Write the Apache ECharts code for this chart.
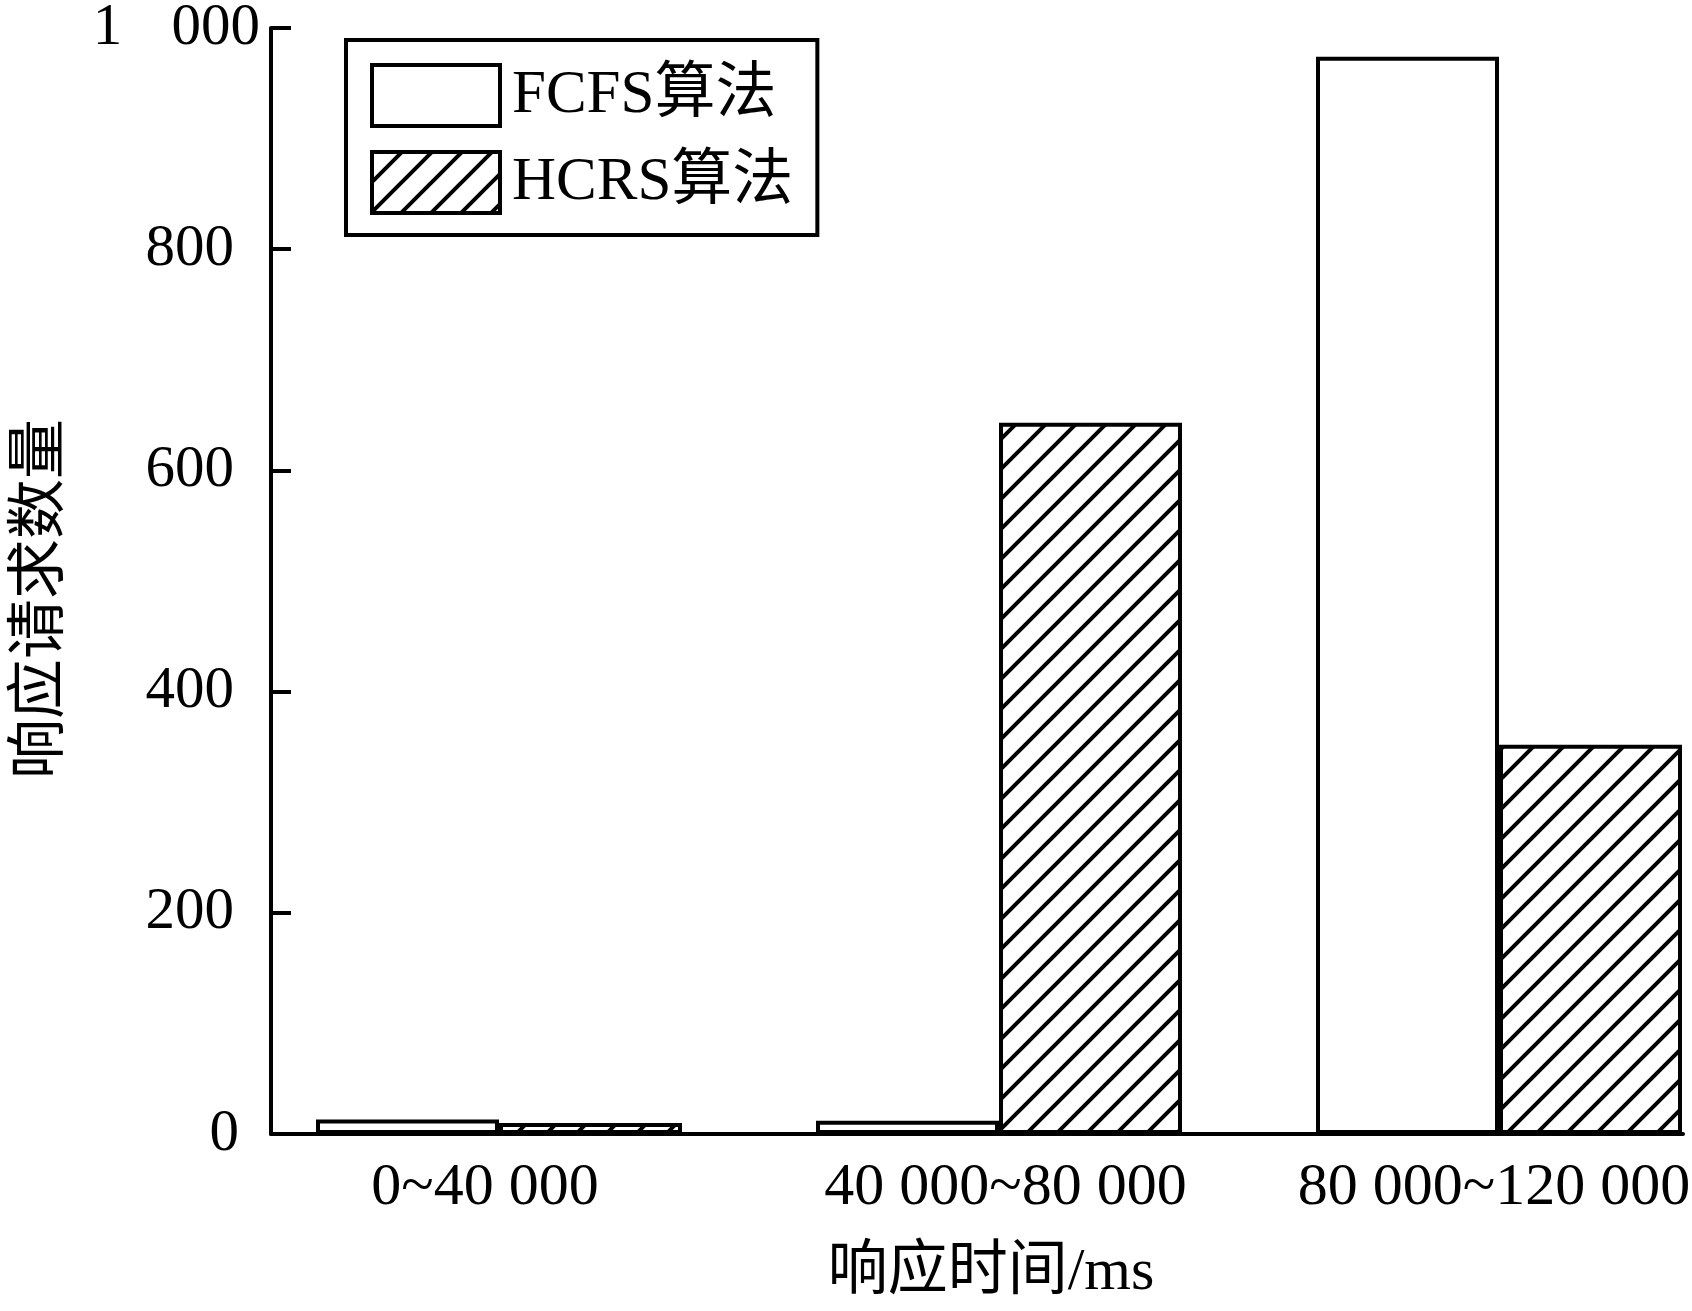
<!DOCTYPE html>
<html>
<head>
<meta charset="utf-8">
<script src="https://cdn.jsdelivr.net/npm/echarts@6/dist/echarts.min.js"></script>
<style>
html,body{margin:0;padding:0;background:#fff;}
#chart{width:1692px;height:1311px;}
</style>
</head>
<body>
<div id="chart"></div>
<script>
// ---- data ----
var categories = ['0~40 000', '40 000~80 000', '80 000~120 000'];
var categoryPos = [1, 2, 3];
var seriesNames = ['FCFS算法', 'HCRS算法'];
var fcfsValues = [13, 12, 974];
var hcrsValues = [10, 643, 352];
var yTickLabels = {0: '0', 200: '200', 400: '400', 600: '600', 800: '800', 1000: '1\u2002\u2004000'};
var xAxisTitle = '响应时间/ms';
var yAxisTitle = '响应请求数量';

var FONT = '"Liberation Serif", "Times New Roman", "Noto Sans CJK SC", serif';

// hatch pattern "/"
function makeHatch() {
  var s = 30;
  var c = document.createElement('canvas');
  c.width = s; c.height = s;
  var g = c.getContext('2d');
  g.fillStyle = '#fff';
  g.fillRect(0, 0, s, s);
  g.strokeStyle = '#000';
  g.lineWidth = 4;
  g.beginPath();
  g.moveTo(-5, s + 5); g.lineTo(s + 5, -5);
  g.moveTo(-5, 5); g.lineTo(5, -5);
  g.moveTo(s - 5, s + 5); g.lineTo(s + 5, s - 5);
  g.stroke();
  return c;
}
var hatch = makeHatch();

function pairs(vals) {
  return vals.map(function (v, i) { return [categoryPos[i], v]; });
}

var labelBase = {fontFamily: FONT, fontSize: 60, color: '#000'};
function withPad(p) { return Object.assign({padding: p}, labelBase); }
var yBase = {fontFamily: FONT, fontSize: 59, color: '#000'};
function yPad(p) { return Object.assign({padding: p}, yBase); }

var chart = echarts.init(document.getElementById('chart'), null, {renderer: 'canvas'});
chart.setOption({
  backgroundColor: '#fff',
  animation: false,
  grid: {left: 271, right: 9, top: 28, bottom: 177, containLabel: false, outerBoundsMode: 'none'},
  legend: {
    orient: 'vertical',
    left: 346,
    top: 40,
    padding: [23, 24, 20, 24],
    itemWidth: 128,
    itemHeight: 61,
    itemGap: 22,
    borderColor: '#000',
    borderWidth: 4,
    borderRadius: 0,
    backgroundColor: '#fff',
    icon: 'rect',
    itemStyle: {borderColor: '#000', borderWidth: 4},
    textStyle: {fontFamily: FONT, fontSize: 61, color: '#000', padding: [0, 0, 0, 7]},
    data: seriesNames
  },
  xAxis: {
    type: 'value',
    min: 0.544,
    max: 3.368,
    name: xAxisTitle,
    nameLocation: 'middle',
    nameGap: 109,
    nameMoveOverlap: false,
    nameTextStyle: {fontFamily: FONT, fontSize: 60, color: '#000', padding: [0, 0, 0, 28]},
    axisLine: {show: true, onZero: false, lineStyle: {color: '#000', width: 4}},
    axisTick: {show: false},
    splitLine: {show: false},
    axisLabel: {
      customValues: categoryPos,
      margin: 24,
      fontFamily: FONT,
      fontSize: 60,
      color: '#000',
      rich: {
        c0: withPad([0, 28, 0, 0]),
        c1: withPad([0, 0, 0, 13]),
        c2: withPad([0, 10, 0, 0])
      },
      formatter: function (v) {
        var i = categoryPos.indexOf(Math.round(v));
        return i >= 0 ? '{c' + i + '|' + categories[i] + '}' : '';
      }
    }
  },
  yAxis: {
    type: 'value',
    min: 0,
    max: 1000,
    interval: 200,
    name: yAxisTitle,
    nameLocation: 'middle',
    nameRotate: 90,
    nameGap: 199,
    nameMoveOverlap: false,
    nameTextStyle: {fontFamily: FONT, fontSize: 60, color: '#000', padding: [0, 36, 0, 0]},
    axisLine: {show: true, lineStyle: {color: '#000', width: 4}},
    axisTick: {show: true, inside: true, length: 20, lineStyle: {color: '#000', width: 4}},
    splitLine: {show: false},
    axisLabel: {
      margin: 10,
      fontFamily: FONT,
      fontSize: 59,
      color: '#000',
      rich: {
        n: yPad([0, 27, 0, 0]),
        z: yPad([0, 22, 0, 0]),
        t: yPad([0, 1, 0, 0])
      },
      formatter: function (v) {
        var s = yTickLabels[v] !== undefined ? yTickLabels[v] : String(v);
        var k = v === 1000 ? 't' : (v === 0 ? 'z' : 'n');
        return '{' + k + '|' + s + '}';
      }
    }
  },
  series: [
    {
      name: seriesNames[0],
      type: 'bar',
      barWidth: 183,
      barGap: '0%',
      itemStyle: {color: '#fff', borderColor: '#000', borderWidth: 4},
      data: pairs(fcfsValues)
    },
    {
      name: seriesNames[1],
      type: 'bar',
      barWidth: 183,
      barGap: '0%',
      itemStyle: {color: {image: hatch, repeat: 'repeat'}, borderColor: '#000', borderWidth: 4},
      data: pairs(hcrsValues)
    }
  ]
});
</script>
</body>
</html>
